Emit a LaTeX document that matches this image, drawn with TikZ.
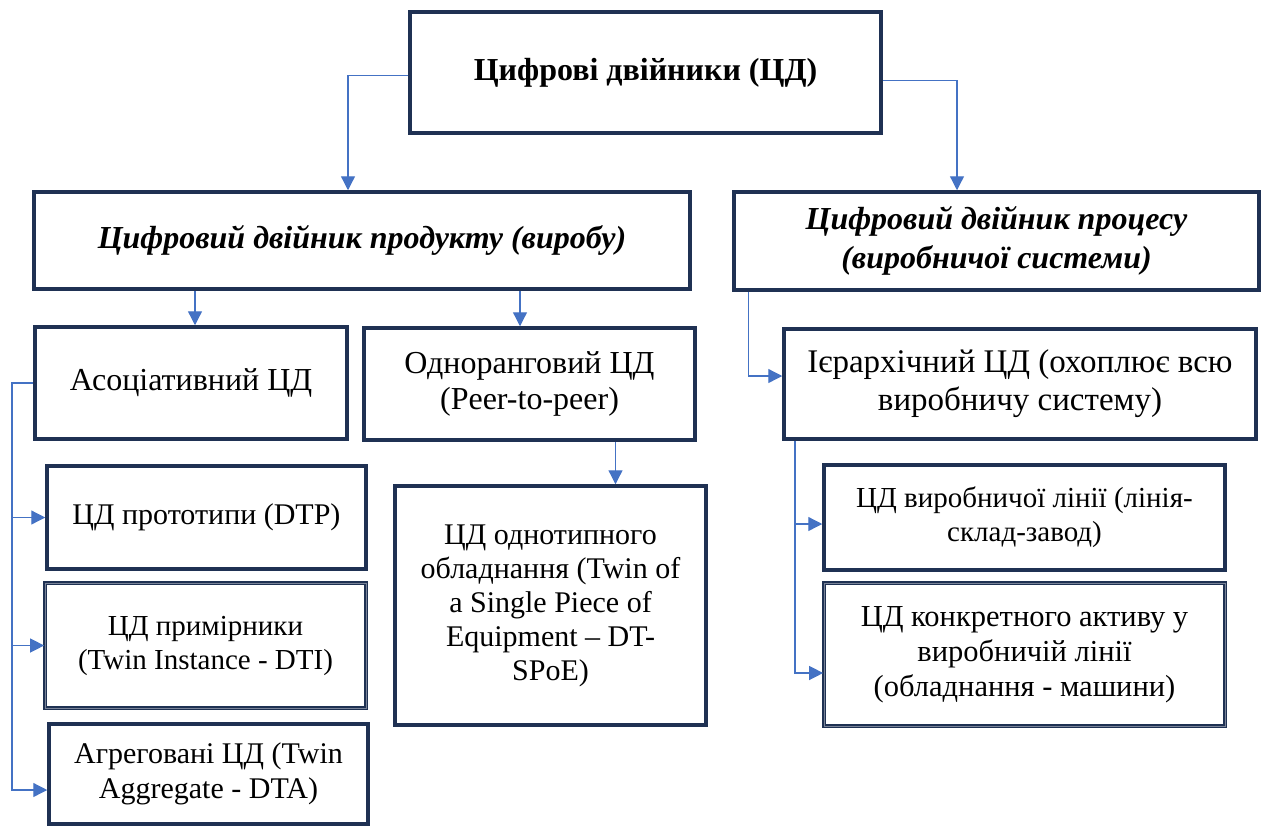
\documentclass[tikz,border=0pt]{standalone}
\usepackage{fontspec}
\setmainfont{Liberation Serif}
\usetikzlibrary{arrows.meta,positioning}
\definecolor{navy}{HTML}{1F3153}
\definecolor{linkblue}{HTML}{4472C4}

\begin{document}
\begin{tikzpicture}[x=1pt, y=-1pt,
    box/.style={draw=navy, line width=3.5pt, fill=white, align=center, inner sep=0pt,
                font=\fontsize{30}{34.5}\selectfont},
    bigbox/.style={box, font=\fontsize{32}{37}\selectfont},
    dbox/.style={box, line width=1.7pt, double=navy!60, double distance=1pt},
    arr/.style={-{Triangle[length=14pt, width=14pt]}, line width=1.3pt, linkblue},
]
\useasboundingbox (0,0) rectangle (1263,828);

% Level 1
\node[bigbox, minimum width=471pt, minimum height=121pt] (root) at (645.5,72.5)
    {\textbf{Цифрові двійники (ЦД)}};

% Level 2
\node[bigbox, minimum width=656pt, minimum height=97pt] (prod) at (362,240.5)
    {\textbf{\textit{Цифровий двійник продукту (виробу)}}};
\node[bigbox, font=\fontsize{32}{39}\selectfont, minimum width=525pt, minimum height=98pt] (proc) at (996.5,241)
    {\textbf{\textit{Цифровий двійник процесу}}\\\textbf{\textit{(виробничої системи)}}};

% Level 3
\node[bigbox, minimum width=312pt, minimum height=112pt] (assoc) at (191,383)
    {Асоціативний ЦД};
\node[bigbox, font=\fontsize{32}{36}\selectfont, minimum width=331pt, minimum height=112pt] (peer) at (529.5,384)
    {Одноранговий ЦД\\(Peer-to-peer)};
\node[bigbox, font=\fontsize{33}{38}\selectfont, minimum width=472pt, minimum height=110pt] (hier) at (1020,384)
    {Ієрархічний ЦД (охоплює всю\\виробничу систему)};

% Level 4: product branch
\node[box, minimum width=319pt, minimum height=103pt] (dtp) at (206.5,517.5)
    {ЦД прототипи (DTP)};
\node[dbox, font=\fontsize{29}{34}\selectfont, minimum width=321pt, minimum height=125pt] (dti) at (205.5,645.5)
    {ЦД примірники\\(Twin Instance - DTI)};
\node[box, minimum width=319pt, minimum height=100pt] (dta) at (208.5,774)
    {Агреговані ЦД (Twin\\Aggregate - DTA)};
\node[box, font=\fontsize{30}{34}\selectfont, minimum width=311pt, minimum height=239pt] (spoe) at (550.5,605.5)
    {ЦД однотипного\\обладнання (Twin of\\a Single Piece of\\Equipment -- DT-\\SPoE)};

% Level 4: process branch
\node[box, font=\fontsize{29}{34}\selectfont, minimum width=401pt, minimum height=105pt] (pline) at (1024.5,517.5)
    {ЦД виробничої лінії (лінія-\\склад-завод)};
\node[dbox, font=\fontsize{30.5}{35}\selectfont, minimum width=401pt, minimum height=143pt] (asset) at (1024.5,654.5)
    {ЦД конкретного активу у\\виробничій лінії\\(обладнання - машини)};

% Connectors
\draw[arr] ([yshift=-3pt]root.west) -| ([xshift=-14pt]prod.north);
\draw[arr] ([yshift=-8pt]root.east) -| ([xshift=-39.5pt]proc.north);
\draw[arr] ([xshift=4pt]assoc.north |- prod.south) -- ([xshift=4pt]assoc.north);
\draw[arr] ([xshift=-9.5pt]peer.north |- prod.south) -- ([xshift=-9.5pt]peer.north);
\draw[arr] ([xshift=16pt]proc.south west) |- ([yshift=8pt]hier.west);
\draw[arr] ([xshift=86pt]peer.south) -- ([xshift=86pt]peer.south |- spoe.north);

\coordinate (trunk) at (12,386);
\draw[arr] (assoc.west) -- (assoc.west -| trunk) |- (dtp.west);
\draw[arr] (assoc.west -| trunk) |- (dti.west);
\draw[arr] (assoc.west -| trunk) |- ([yshift=-16pt]dta.west);

\coordinate (htrunk) at (795,441);
\draw[arr] (hier.south -| htrunk) |- ([yshift=-6.5pt]pline.west);
\draw[arr] (hier.south -| htrunk) |- ([yshift=-18.5pt]asset.west);
\end{tikzpicture}
\end{document}
